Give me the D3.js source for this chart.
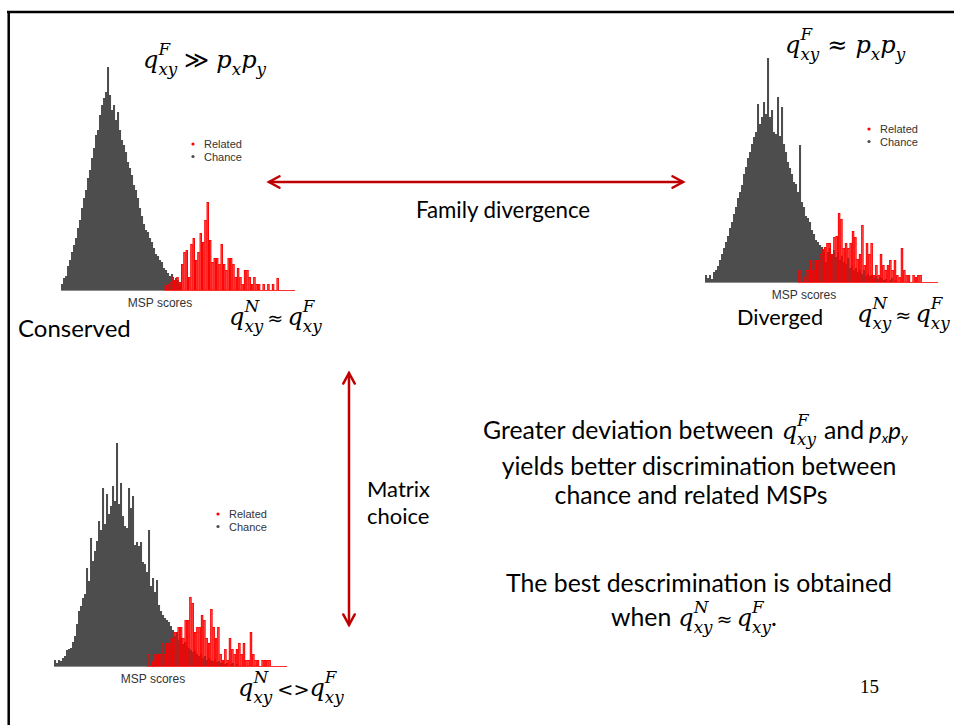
<!DOCTYPE html>
<html>
<head>
<meta charset="utf-8">
<script src="https://cdn.jsdelivr.net/npm/d3@7"></script>
<style>body{margin:0;background:#fff;}</style>
</head>
<body>
<div id="slide"></div>
<script>
// bin counts (gray = chance MSPs, red = related MSPs)
var conservedChance = [6,12,14,24,30,38,45,52,62,70,82,92,100,112,120,132,142,155,160,175,185,192,198,223,195,180,185,170,178,160,150,145,138,128,122,115,105,100,92,82,74,66,60,58,52,48,42,36,34,30,28,22,20,17,14,16,10,12,10,6];
var conservedRelated = [5,6,8,13,10,13,8,26,38,40,13,46,52,30,38,57,48,70,88,50,28,32,32,26,46,26,20,32,32,26,13,22,13,6,20,20,13,6,13,6,6,0,6,0,6,0,6,0,12,0,0,0,0,0,0,0];
var divergedChance = [7,4,7,3,10,12,16,22,28,34,40,46,54,60,68,75,84,90,97,108,115,124,130,138,145,150,178,158,165,180,168,224,165,172,150,148,185,146,175,138,130,120,114,108,100,98,90,137,80,75,66,64,60,52,48,42,40,37,35,30,20,30,34,28,32,25,30,22,26,20,18,24,14,16,12,14,10,12,8,12,6,8,6,7,4,6,3,5,4,2,3,0,2,4,0,2];
var divergedRelated = [12,0,5,12,12,22,12,22,22,28,33,35,39,39,28,45,46,69,63,34,39,34,39,51,45,23,28,57,17,39,28,39,7,17,7,28,17,12,17,22,12,22,7,5,34,12,7,7,0,7,5,7,7,0,0,0,0,0,0,0];
var matrixChance = [6,3,6,5,8,10,16,17,18,24,30,42,55,60,68,72,98,85,128,105,115,125,145,136,178,142,172,152,160,180,165,223,162,183,150,140,138,178,158,170,121,124,120,124,104,102,94,136,80,88,74,86,61,55,51,48,46,44,40,36,30,34,26,28,22,24,20,18,16,14,15,12,10,12,8,10,6,8,6,5,7,4,5,3,4,2,3,0,2,3,0,2];
var matrixRelated = [12,0,5,12,12,12,23,12,23,23,28,34,34,39,39,28,46,46,69,63,34,39,39,51,46,28,23,57,39,28,39,12,6,17,6,28,17,12,17,23,12,23,6,6,34,12,6,6,0,6,6,6,6,0,0,0,0,0,0,0];
var legendLabels = ["Related", "Chance"];
var legendColors = ["#ff0000", "#4d4d4d"];
var axisLabel = "MSP scores";
var pageNumber = "15";

var width = 954, height = 725;
var arrowColor = "#c00000";

var svg = d3.select("#slide")
  .append("svg")
  .attr("width", width)
  .attr("height", height);

// slide frame (top and left edges visible)
svg.append("line").attr("x1", 7).attr("x2", width).attr("y1", 12).attr("y2", 12)
  .attr("stroke", "#000").attr("stroke-width", 2.5);
svg.append("line").attr("x1", 8.7).attr("x2", 8.7).attr("y1", 11).attr("y2", height)
  .attr("stroke", "#000").attr("stroke-width", 2.5);

var panels = [
  {chance: conservedChance, related: conservedRelated, grayX: 61, redX: 164.7, base: 290, legend: [193, 144], label: [160, 307]},
  {chance: divergedChance, related: divergedRelated, grayX: 705, redX: 798.3, base: 282, legend: [869, 129], label: [804, 299]},
  {chance: matrixChance, related: matrixRelated, grayX: 54, redX: 147.3, base: 666, legend: [218, 514], label: [153, 683]}
];

function drawHist(p) {
  var g = svg.append("g");
  var y = d3.scaleLinear().domain([0, 250]).range([p.base, p.base - 250]);
  var xg = d3.scaleLinear().domain([0, p.chance.length]).range([p.grayX, p.grayX + p.chance.length * 2]);
  var xr = d3.scaleLinear().domain([0, p.related.length]).range([p.redX, p.redX + p.related.length * 2.33]);

  // red fill first, gray over it, then the red bar outlines on top
  g.append("g").selectAll("rect")
    .data(p.related)
    .enter()
    .append("rect")
    .attr("x", function(d, i) { return xr(i); })
    .attr("width", xr(1) - xr(0))
    .attr("y", function(d) { return y(d); })
    .attr("height", function(d) { return y(0) - y(d); })
    .attr("fill", "rgba(255,0,0,0.45)");

  g.append("g").selectAll("rect")
    .data(p.chance)
    .enter()
    .append("rect")
    .attr("x", function(d, i) { return xg(i); })
    .attr("width", xg(1) - xg(0) + 0.05)
    .attr("y", function(d) { return y(d); })
    .attr("height", function(d) { return y(0) - y(d); })
    .attr("fill", "#4d4d4d");

  g.append("line")
    .attr("x1", xg(0)).attr("x2", xg(p.chance.length))
    .attr("y1", y(0) + 0.5).attr("y2", y(0) + 0.5)
    .attr("stroke", "#8c8c8c").attr("stroke-width", 1);

  g.append("g").selectAll("rect")
    .data(p.related.map(function(d, i) { return {v: d, i: i}; }).filter(function(d) { return d.v > 0; }))
    .enter()
    .append("rect")
    .attr("x", function(d) { return xr(d.i) + 0.5; })
    .attr("width", xr(1) - xr(0) - 1)
    .attr("y", function(d) { return y(d.v) + 0.5; })
    .attr("height", function(d) { return y(0) - y(d.v) - 0.5; })
    .attr("fill", "none")
    .attr("stroke", "#ff0000")
    .attr("stroke-width", 1);

  g.append("line")
    .attr("x1", xr(0)).attr("x2", xr(p.related.length))
    .attr("y1", y(0) + 0.5).attr("y2", y(0) + 0.5)
    .attr("stroke", "#ff3030").attr("stroke-width", 1);

  // legend
  var lg = g.append("g").attr("font-family", "Liberation Sans, Arial, sans-serif").attr("font-size", 11);
  legendLabels.forEach(function(lab, i) {
    lg.append("circle")
      .attr("cx", p.legend[0]).attr("cy", p.legend[1] + i * 12.5)
      .attr("r", 1.6).attr("fill", legendColors[i]);
    lg.append("text")
      .attr("x", p.legend[0] + 11).attr("y", p.legend[1] + 4 + i * 12.5)
      .attr("fill", "#333")
      .text(lab);
  });

  g.append("text")
    .attr("x", p.label[0]).attr("y", p.label[1])
    .attr("text-anchor", "middle")
    .attr("font-family", "Liberation Sans, Arial, sans-serif")
    .attr("font-size", 12)
    .attr("fill", "#333")
    .text(axisLabel);
}

panels.forEach(drawHist);

// math: italic base letter with stacked super/subscripts
function formula(x, y, parts, size) {
  var g = svg.append("g").attr("font-family", "DejaVu Serif, serif").attr("fill", "#000");
  var cx = x;
  parts.forEach(function(p) {
    if (p.op) {
      var pad = p.pad == null ? 4 : p.pad;
      var padR = p.padR == null ? pad : p.padR;
      var t = g.append("text").attr("x", cx + pad).attr("y", y)
        .attr("font-size", size * (p.scale || 0.9)).text(p.op);
      cx += t.node().getComputedTextLength() + pad + padR;
    } else {
      var t = g.append("text").attr("x", cx).attr("y", y)
        .attr("font-style", "italic").attr("font-size", size).text(p.b);
      var w = t.node().getComputedTextLength();
      var ext = 0;
      if (p.sup) {
        var s = g.append("text").attr("x", cx + w).attr("y", y - size * 0.56)
          .attr("font-style", "italic").attr("font-size", size * 0.7).text(p.sup);
        ext = Math.max(ext, s.node().getComputedTextLength());
      }
      if (p.sub) {
        var b = g.append("text").attr("x", cx + w).attr("y", y + size * (p.subDy || 0.28))
          .attr("font-style", "italic").attr("font-size", size * 0.7).text(p.sub);
        ext = Math.max(ext, b.node().getComputedTextLength());
      }
      cx += w + ext;
    }
  });
  return cx;
}

function words(x, y, str, size, anchor) {
  var t = svg.append("text").attr("x", x).attr("y", y)
    .attr("font-family", "Lato, sans-serif").attr("font-size", size)
    .attr("fill", "#000").attr("text-anchor", anchor || "start").text(str);
  return x + t.node().getComputedTextLength();
}

var qF = {b: "q", sup: "F", sub: "xy"};
var qN = {b: "q", sup: "N", sub: "xy"};
var mathSize = 24;
var bodySize = 24.8;

formula(143, 68, [qF, {op: "\u226B", pad: 7, scale: 1}, {b: "p", sub: "x"}, {b: "p", sub: "y"}], mathSize);
formula(785, 53, [qF, {op: "\u2248", pad: 8, scale: 1}, {b: "p", sub: "x"}, {b: "p", sub: "y"}], mathSize);
formula(229, 325, [qN, {op: "\u2248", pad: 4, scale: 0.8}, qF], mathSize);
formula(857, 322, [qN, {op: "\u2248", pad: 4, scale: 0.8}, qF], mathSize);
formula(238, 696, [qN, {op: "<>", pad: 5, padR: 0, scale: 0.8}, qF], mathSize);

words(18, 337, "Conserved", 24);
words(737, 325, "Diverged", 21.7);
words(503, 218, "Family divergence", 22.3, "middle");
words(367, 497, "Matrix", 22);
words(367, 524, "choice", 22);

// right-hand explanation block
var l1 = 439;
var lx = words(483, l1, "Greater deviation between", bodySize);
lx = formula(lx + 8, l1, [{b: "q", sup: "F", sub: "xy", subDy: 0.24}], mathSize);
lx = words(lx + 8, l1, "and", bodySize);
var pg = svg.append("text").attr("x", lx + 5).attr("y", l1)
  .attr("font-family", "Lato, sans-serif").attr("font-style", "italic").attr("font-size", 24);
pg.append("tspan").attr("font-size", 24).text("p");
pg.append("tspan").attr("font-size", 14).attr("dy", 4).text("x");
pg.append("tspan").attr("font-size", 24).attr("dy", -4).text("p");
pg.append("tspan").attr("font-size", 14).attr("dy", 4).text("y");

words(699, 475, "yields better discrimination between", bodySize, "middle");
words(691, 504, "chance and related MSPs", bodySize, "middle");
words(699, 592, "The best descrimination is obtained", bodySize, "middle");
var wx = words(611, 626, "when", bodySize);
wx = formula(wx + 7, 626, [qN, {op: "\u2248", pad: 4, scale: 0.8}, qF], mathSize);
words(wx, 626, ".", bodySize);

svg.append("text").attr("x", 860).attr("y", 693)
  .attr("font-family", "Liberation Serif, serif").attr("font-size", 19)
  .text(pageNumber);

// arrows
function arrow(x1, y1, x2, y2) {
  var g = svg.append("g").attr("stroke", arrowColor).attr("stroke-width", 2.5)
    .attr("fill", "none").attr("stroke-linecap", "round");
  g.append("line").attr("x1", x1).attr("y1", y1).attr("x2", x2).attr("y2", y2);
  var ang = Math.atan2(y2 - y1, x2 - x1), L = 12, s = 0.5;
  [[x1, y1, ang], [x2, y2, ang + Math.PI]].forEach(function(e) {
    var a = e[2];
    g.append("path").attr("d",
      "M" + (e[0] + L * Math.cos(a + s)) + "," + (e[1] + L * Math.sin(a + s)) +
      "L" + e[0] + "," + e[1] +
      "L" + (e[0] + L * Math.cos(a - s)) + "," + (e[1] + L * Math.sin(a - s)));
  });
}
arrow(269, 182, 683, 182);
arrow(349, 373, 349, 625);
</script>
</body>
</html>
